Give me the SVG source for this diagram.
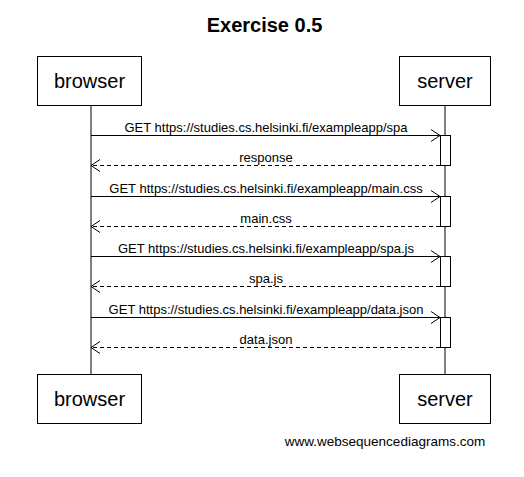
<svg xmlns="http://www.w3.org/2000/svg" width="524" height="477" viewBox="0 0 524 477">
<style>
.box{fill:#fff;stroke:#000;stroke-width:1}
.lt{font-family:"Liberation Sans",Arial,sans-serif;font-size:20px;text-anchor:middle;fill:#000}
.msg{font-family:"Liberation Sans",Arial,sans-serif;font-size:13px;text-anchor:middle;fill:#000}
.line{stroke:#000;stroke-width:1;fill:none}
.dash{stroke:#000;stroke-width:1;fill:none;stroke-dasharray:4,3}
.head{stroke:#000;stroke-width:1;fill:none}
</style>
<rect width="524" height="477" fill="#fff"/>
<text x="264.5" y="32" font-family="Liberation Sans,Arial,sans-serif" font-size="20" font-weight="bold" text-anchor="middle">Exercise 0.5</text>
<g id="lifelines">
<line class="line" x1="91" y1="105" x2="91" y2="374"/>
<line class="line" x1="445" y1="105" x2="445" y2="374"/>
</g>
<g id="browser-top"><rect class="box" x="37.5" y="56.5" width="104" height="49"/><text class="lt" x="89.5" y="88">browser</text></g>
<g id="server-top"><rect class="box" x="399.5" y="56.5" width="91" height="49"/><text class="lt" x="445" y="88">server</text></g>
<g id="browser-bottom"><rect class="box" x="37.5" y="374.5" width="104" height="49"/><text class="lt" x="89.5" y="406">browser</text></g>
<g id="server-bottom"><rect class="box" x="399.5" y="374.5" width="91" height="49"/><text class="lt" x="445" y="406">server</text></g>
<g id="activations">
<rect class="box" x="440.5" y="135.5" width="10" height="30"/>
<rect class="box" x="440.5" y="196.5" width="10" height="30"/>
<rect class="box" x="440.5" y="256.5" width="10" height="30"/>
<rect class="box" x="440.5" y="317.5" width="10" height="30"/>
</g>
<g id="connectors">
<line class="line" x1="91" y1="135.5" x2="440" y2="135.5"/>
<polyline class="head" points="431,129.5 440,135.5 431,141.5"/>
<text class="msg" x="266" y="132">GET https://studies.cs.helsinki.fi/exampleapp/spa</text>
<line class="dash" x1="440" y1="165.5" x2="91" y2="165.5"/>
<polyline class="head" points="100,159.5 91,165.5 100,171.5"/>
<text class="msg" x="266" y="162">response</text>

<line class="line" x1="91" y1="196.5" x2="440" y2="196.5"/>
<polyline class="head" points="431,190.5 440,196.5 431,202.5"/>
<text class="msg" x="266" y="192.5">GET https://studies.cs.helsinki.fi/exampleapp/main.css</text>
<line class="dash" x1="440" y1="226.5" x2="91" y2="226.5"/>
<polyline class="head" points="100,220.5 91,226.5 100,232.5"/>
<text class="msg" x="266" y="222.5">main.css</text>

<line class="line" x1="91" y1="256.5" x2="440" y2="256.5"/>
<polyline class="head" points="431,250.5 440,256.5 431,262.5"/>
<text class="msg" x="266" y="253">GET https://studies.cs.helsinki.fi/exampleapp/spa.js</text>
<line class="dash" x1="440" y1="286.5" x2="91" y2="286.5"/>
<polyline class="head" points="100,280.5 91,286.5 100,292.5"/>
<text class="msg" x="266" y="283">spa.js</text>

<line class="line" x1="91" y1="317.5" x2="440" y2="317.5"/>
<polyline class="head" points="431,311.5 440,317.5 431,323.5"/>
<text class="msg" x="266" y="313.5">GET https://studies.cs.helsinki.fi/exampleapp/data.json</text>
<line class="dash" x1="440" y1="347.5" x2="91" y2="347.5"/>
<polyline class="head" points="100,341.5 91,347.5 100,353.5"/>
<text class="msg" x="266" y="343.5">data.json</text>
</g>
<text x="385" y="446" font-family="Liberation Sans,Arial,sans-serif" font-size="13.5" text-anchor="middle">www.websequencediagrams.com</text>
</svg>
